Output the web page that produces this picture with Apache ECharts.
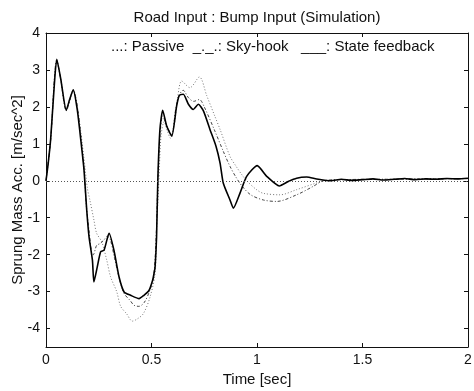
<!DOCTYPE html>
<html>
<head>
<meta charset="utf-8">
<script src="https://cdn.jsdelivr.net/npm/echarts@6/dist/echarts.min.js"></script>
<style>
  html, body { margin: 0; padding: 0; background: #fff; }
  #chart { width: 474px; height: 391px; }
</style>
</head>
<body>
<div id="chart"></div>
<script>
// values
var titleText = 'Road Input : Bump Input (Simulation)';
var legendText = '...: Passive  _._.: Sky-hook   ___: State feedback';
var yTicks = [-4, -3, -2, -1, 0, 1, 2, 3, 4];

var timeSF = [0, 0.01, 0.022, 0.038, 0.051, 0.07, 0.096, 0.112, 0.129, 0.148, 0.165, 0.18, 0.193, 0.204,
  0.22, 0.227, 0.243, 0.259, 0.275, 0.299, 0.322, 0.346, 0.37, 0.401, 0.441, 0.464, 0.488, 0.505, 0.512,
  0.517, 0.524, 0.53, 0.54, 0.553, 0.572, 0.596, 0.619, 0.632, 0.651, 0.675, 0.698, 0.722, 0.746, 0.777,
  0.806, 0.825, 0.84, 0.872, 0.888, 0.919, 0.951, 1.001, 1.046, 1.106, 1.148, 1.188, 1.235, 1.283,
  1.35, 1.4, 1.45, 1.5, 1.55, 1.6, 1.65, 1.7, 1.75, 1.8, 1.85, 1.9, 1.95, 2.0];
var stateFeedback = [0, 0.45, 1.12, 2.48, 3.29, 2.75, 1.91, 2.2, 2.46, 1.93, 1.1, 0.3, -0.79, -1.52,
  -2.15, -2.74, -2.33, -1.92, -1.88, -1.42, -1.88, -2.6, -3.01, -3.1, -3.19, -3.1, -2.97, -2.7, -2.51,
  -2.33, -1.52, 0.03, 1.39, 1.91, 1.48, 1.21, 2.02, 2.31, 2.34, 2.07, 1.93, 2.07, 1.89, 1.39,
  0.93, 0.48, -0.06, -0.52, -0.74, -0.34, 0.12, 0.41, 0.12, -0.14, -0.02, 0.07, 0.1, 0.05,
  0.0, 0.04, 0.01, 0.03, 0.05, 0.02, 0.04, 0.06, 0.03, 0.05, 0.04, 0.06, 0.05, 0.07];

var timeSky = [0, 0.022, 0.051, 0.07, 0.096, 0.129, 0.15, 0.18, 0.19, 0.205, 0.215, 0.224, 0.24, 0.256,
  0.275, 0.29, 0.305, 0.325, 0.35, 0.37, 0.4, 0.417, 0.44, 0.465, 0.49, 0.51, 0.522, 0.53, 0.54, 0.553,
  0.575, 0.595, 0.615, 0.63, 0.65, 0.675, 0.7, 0.727, 0.75, 0.8, 0.84, 0.872, 0.9, 0.93, 0.97, 1.03,
  1.093, 1.188, 1.267, 1.314, 1.4, 1.6, 2.0];
var skyHook = [0, 1.1, 3.27, 2.75, 1.9, 2.45, 1.95, 0.35, -0.6, -1.4, -1.9, -2.0, -1.75, -1.7,
  -1.6, -1.5, -1.6, -2.1, -2.7, -3.05, -3.25, -3.37, -3.4, -3.3, -3.0, -2.6, -1.5, 0, 1.2, 1.75,
  1.45, 1.25, 1.95, 2.3, 2.45, 2.25, 2.15, 2.2, 2.0, 1.35, 0.8, 0.39, 0.1, -0.15, -0.38, -0.52,
  -0.56, -0.38, -0.15, 0, 0.03, 0.04, 0.06];

var timePassive = [0, 0.022, 0.051, 0.07, 0.097, 0.13, 0.15, 0.18, 0.196, 0.209, 0.227, 0.24, 0.264,
  0.288, 0.306, 0.335, 0.354, 0.382, 0.409, 0.43, 0.461, 0.493, 0.517, 0.525, 0.535, 0.545, 0.56,
  0.575, 0.59, 0.61, 0.625, 0.643, 0.682, 0.727, 0.762, 0.8, 0.825, 0.872, 0.9, 0.93, 0.96, 1.0,
  1.03, 1.109, 1.188, 1.283, 1.33, 1.4, 1.6, 2.0];
var passive = [0, 1.1, 3.25, 2.75, 1.9, 2.45, 1.95, 0.6, -0.2, -0.55, -1.06, -1.42, -1.65,
  -2.15, -2.6, -3.0, -3.4, -3.6, -3.8, -3.75, -3.6, -3.15, -2.5, -1.2, 0, 1.2, 1.6,
  1.35, 1.15, 1.6, 2.3, 2.7, 2.52, 2.81, 2.3, 1.75, 1.39, 0.66, 0.4, 0.15, -0.05, -0.25,
  -0.34, -0.38, -0.24, -0.06, 0, 0.03, 0.04, 0.06];

function pairs(ts, vs) {
  return ts.map(function (t, i) { return [t, vs[i]]; });
}

var chart = echarts.init(document.getElementById('chart'));
var FONT = 'Liberation Sans';
var INK = '#111';

var frameLine = { show: true, onZero: false, lineStyle: { color: INK, width: 1 } };
var tickStyle = { show: true, inside: true, length: 4, lineStyle: { color: INK, width: 1 } };

var option = {
  animation: false,
  backgroundColor: '#fff',
  title: [{
    text: titleText,
    left: 252, top: 5, textAlign: 'center',
    textStyle: { fontFamily: FONT, fontSize: 15, fontWeight: 'normal', color: INK }
  }, {
    text: legendText,
    left: 106, top: 34,
    textStyle: { fontFamily: FONT, fontSize: 15, fontWeight: 'normal', color: INK }
  }],
  grid: { left: 46, right: 6, top: 33, bottom: 44, outerBoundsMode: 'none', containLabel: false },
  xAxis: [{
    type: 'value', min: 0, max: 2, interval: 0.5,
    name: 'Time [sec]', nameLocation: 'middle', nameGap: 25, nameMoveOverlap: false,
    nameTextStyle: { fontFamily: FONT, fontSize: 15, color: INK },
    axisLine: frameLine,
    axisTick: tickStyle,
    axisLabel: { fontFamily: FONT, fontSize: 14, color: INK, margin: 6 },
    splitLine: { show: false }
  }, {
    type: 'value', min: 0, max: 2, interval: 0.5, position: 'top',
    axisLine: frameLine,
    axisTick: tickStyle,
    axisLabel: { show: false },
    splitLine: { show: false }
  }],
  yAxis: [{
    type: 'value', min: -4.5, max: 4,
    name: 'Sprung Mass Acc. [m/sec^2]', nameLocation: 'middle', nameGap: 21, nameMoveOverlap: false,
    nameTextStyle: { fontFamily: FONT, fontSize: 15, color: INK },
    axisLine: frameLine,
    axisTick: Object.assign({ customValues: yTicks }, tickStyle),
    axisLabel: { fontFamily: FONT, fontSize: 14, color: INK, margin: 6, customValues: yTicks },
    splitLine: { show: false }
  }, {
    type: 'value', min: -4.5, max: 4, position: 'right',
    axisLine: frameLine,
    axisTick: Object.assign({ customValues: yTicks }, tickStyle),
    axisLabel: { show: false },
    splitLine: { show: false }
  }],
  series: [{
    name: 'Passive', type: 'line', showSymbol: false, smooth: 0.3,
    data: pairs(timePassive, passive),
    lineStyle: { color: '#777', width: 1, type: [1, 2] },
    markLine: {
      silent: true, symbol: 'none', label: { show: false },
      lineStyle: { color: '#555', width: 1, type: [1, 2] },
      data: [{ yAxis: 0 }]
    },
    z: 2
  }, {
    name: 'Sky-hook', type: 'line', showSymbol: false, smooth: 0.3,
    data: pairs(timeSky, skyHook),
    lineStyle: { color: '#444', width: 1, type: [3, 2, 1, 2] },
    z: 3
  }, {
    name: 'State feedback', type: 'line', showSymbol: false, smooth: 0.2,
    data: pairs(timeSF, stateFeedback),
    lineStyle: { color: '#000', width: 1.6 },
    z: 4
  }]
};

chart.setOption(option);
</script>
</body>
</html>
